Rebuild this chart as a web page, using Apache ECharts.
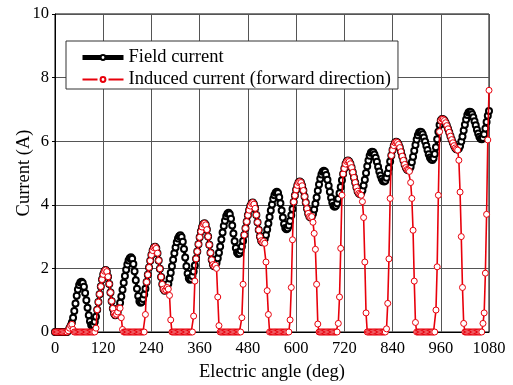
<!DOCTYPE html>
<html>
<head>
<meta charset="utf-8">
<script src="https://cdn.jsdelivr.net/npm/echarts@6/dist/echarts.min.js"></script>
<style>
  html, body { margin: 0; padding: 0; background: #fff; }
  #chart { width: 513px; height: 385px; }
</style>
</head>
<body>
<div id="chart"></div>
<script>
// sampled every 3 deg of electric angle, 0 .. 1080
var angleStep = 3;

var fieldCurrent = [
  0, 0, 0, 0, 0, 0, 0, 0, 0, 0, 0, 0.04, 0.12, 0.20, 0.30, 0.45, 0.66, 0.90, 1.14, 1.34,
  1.48, 1.56, 1.58, 1.54, 1.42, 1.23, 1.00, 0.76, 0.53, 0.34, 0.22, 0.18, 0.22, 0.32, 0.48, 0.70, 0.94, 1.19, 1.43, 1.65,
  1.81, 1.91, 1.95, 1.90, 1.74, 1.51, 1.24, 0.97, 0.74, 0.58, 0.53, 0.56, 0.63, 0.76, 0.92, 1.12, 1.33, 1.55, 1.76, 1.96,
  2.12, 2.25, 2.32, 2.35, 2.30, 2.14, 1.91, 1.63, 1.36, 1.13, 0.97, 0.92, 0.95, 1.04, 1.18, 1.36, 1.57, 1.80, 2.03, 2.24,
  2.42, 2.56, 2.65, 2.68, 2.63, 2.48, 2.25, 1.99, 1.73, 1.50, 1.35, 1.30, 1.33, 1.40, 1.52, 1.68, 1.86, 2.07, 2.27, 2.48,
  2.66, 2.82, 2.94, 3.01, 3.04, 2.99, 2.84, 2.61, 2.34, 2.07, 1.84, 1.69, 1.64, 1.67, 1.76, 1.90, 2.09, 2.30, 2.53, 2.76,
  2.98, 3.16, 3.30, 3.39, 3.42, 3.37, 3.22, 3.00, 2.74, 2.49, 2.27, 2.12, 2.07, 2.10, 2.18, 2.32, 2.49, 2.69, 2.91, 3.13,
  3.33, 3.50, 3.64, 3.72, 3.75, 3.70, 3.56, 3.35, 3.10, 2.85, 2.64, 2.50, 2.45, 2.48, 2.56, 2.69, 2.86, 3.05, 3.26, 3.47,
  3.67, 3.83, 3.96, 4.04, 4.07, 4.02, 3.89, 3.68, 3.45, 3.21, 3.00, 2.87, 2.82, 2.85, 2.93, 3.05, 3.22, 3.41, 3.62, 3.82,
  4.01, 4.18, 4.30, 4.38, 4.41, 4.37, 4.24, 4.05, 3.82, 3.60, 3.40, 3.27, 3.23, 3.26, 3.35, 3.49, 3.67, 3.87, 4.09, 4.29,
  4.47, 4.61, 4.70, 4.73, 4.70, 4.60, 4.45, 4.26, 4.07, 3.88, 3.73, 3.63, 3.60, 3.63, 3.72, 3.85, 4.03, 4.23, 4.44, 4.64,
  4.82, 4.95, 5.04, 5.07, 5.04, 4.94, 4.79, 4.60, 4.41, 4.22, 4.07, 3.97, 3.94, 3.97, 4.05, 4.19, 4.36, 4.56, 4.77, 4.97,
  5.14, 5.28, 5.36, 5.39, 5.36, 5.29, 5.17, 5.02, 4.86, 4.70, 4.55, 4.43, 4.36, 4.33, 4.36, 4.46, 4.61, 4.79, 5.00, 5.21,
  5.39, 5.54, 5.64, 5.67, 5.65, 5.58, 5.48, 5.35, 5.20, 5.05, 4.92, 4.82, 4.75, 4.73, 4.76, 4.85, 4.99, 5.16, 5.36, 5.55,
  5.72, 5.86, 5.95, 5.98, 5.96, 5.90, 5.80, 5.67, 5.53, 5.40, 5.27, 5.17, 5.11, 5.09, 5.12, 5.20, 5.34, 5.51, 5.70, 5.88,
  6.05, 6.19, 6.27, 6.30, 6.28, 6.22, 6.12, 5.99, 5.86, 5.72, 5.59, 5.49, 5.43, 5.41, 5.46, 5.60, 5.81, 6.06, 6.30, 6.51,
  6.65, 6.70, 6.69, 6.65, 6.58, 6.49, 6.39, 6.28, 6.16, 6.05, 5.95, 5.86, 5.79, 5.75, 5.74, 5.77, 5.85, 5.99, 6.15, 6.34,
  6.52, 6.68, 6.82, 6.90, 6.93, 6.91, 6.85, 6.75, 6.63, 6.50, 6.36, 6.24, 6.14, 6.08, 6.06, 6.10, 6.22, 6.40, 6.60, 6.80,
  6.95
];

var inducedCurrent = [
  0, 0, 0, 0, 0, 0, 0, 0, 0, 0, 0, 0.04, 0.12, 0.20, 0.24, 0.08, 0, 0, 0, 0,
  0, 0, 0, 0, 0, 0, 0, 0, 0, 0, 0, 0, 0, 0, 0.12, 0.70, 0.94, 1.19, 1.43, 1.65,
  1.81, 1.91, 1.95, 1.90, 1.74, 1.51, 1.24, 0.97, 0.74, 0.58, 0.53, 0.56, 0.63, 0.76, 0.75, 0.45, 0.08, 0, 0, 0,
  0, 0, 0, 0, 0, 0, 0, 0, 0, 0, 0, 0, 0, 0, 0, 0.55, 1.57, 1.80, 2.03, 2.24,
  2.42, 2.56, 2.65, 2.68, 2.63, 2.48, 2.25, 1.99, 1.73, 1.50, 1.35, 1.30, 1.33, 1.40, 1.35, 1.15, 0.38, 0, 0, 0,
  0, 0, 0, 0, 0, 0, 0, 0, 0, 0, 0, 0, 0, 0, 0, 0.50, 1.60, 2.30, 2.53, 2.76,
  2.98, 3.16, 3.30, 3.39, 3.42, 3.37, 3.22, 3.00, 2.74, 2.49, 2.27, 2.12, 2.07, 2.10, 2.00, 1.10, 0.20, 0, 0, 0,
  0, 0, 0, 0, 0, 0, 0, 0, 0, 0, 0, 0, 0, 0, 0, 0.45, 1.50, 3.05, 3.26, 3.47,
  3.67, 3.83, 3.96, 4.04, 4.07, 4.02, 3.89, 3.68, 3.45, 3.21, 3.00, 2.87, 2.82, 2.85, 2.79, 2.20, 1.30, 0.55, 0, 0,
  0, 0, 0, 0, 0, 0, 0, 0, 0, 0, 0, 0, 0, 0, 0, 0.38, 1.40, 2.90, 4.09, 4.29,
  4.47, 4.61, 4.70, 4.73, 4.70, 4.60, 4.45, 4.26, 4.07, 3.88, 3.73, 3.63, 3.60, 3.63, 3.45, 3.10, 2.60, 1.50, 0.25, 0,
  0, 0, 0, 0, 0, 0, 0, 0, 0, 0, 0, 0, 0, 0, 0, 0.27, 1.10, 2.63, 4.30, 4.97,
  5.14, 5.28, 5.36, 5.39, 5.36, 5.29, 5.17, 5.02, 4.86, 4.70, 4.55, 4.43, 4.36, 4.33, 4.30, 4.10, 3.60, 2.20, 0.60, 0,
  0, 0, 0, 0, 0, 0, 0, 0, 0, 0, 0, 0, 0, 0, 0, 0.10, 0.90, 2.30, 4.20, 5.55,
  5.72, 5.86, 5.95, 5.98, 5.96, 5.90, 5.80, 5.67, 5.53, 5.40, 5.27, 5.17, 5.11, 5.09, 5.05, 4.70, 4.20, 3.20, 1.60, 0.30,
  0, 0, 0, 0, 0, 0, 0, 0, 0, 0, 0, 0, 0, 0, 0, 0, 0.69, 2.05, 4.30, 6.30,
  6.65, 6.70, 6.69, 6.65, 6.58, 6.49, 6.39, 6.28, 6.16, 6.05, 5.95, 5.86, 5.79, 5.75, 5.72, 5.40, 4.40, 3.00, 1.40, 0.27,
  0, 0, 0, 0, 0, 0, 0, 0, 0, 0, 0, 0, 0, 0, 0, 0.27, 0.60, 1.85, 3.70, 6.04,
  7.60
];

var seriesNames = ['Field current', 'Induced current (forward direction)'];

function pairs(values) {
  return values.map(function (v, i) { return [i * angleStep, v]; });
}

var serif = '"Liberation Serif", "Times New Roman", serif';
var chart = echarts.init(document.getElementById('chart'), null, { renderer: 'canvas' });

chart.setOption({
  animation: false,
  backgroundColor: '#fff',
  textStyle: { fontFamily: serif, color: '#000' },
  grid: {
    left: 55, right: 24, top: 14, bottom: 53,
    outerBoundsMode: 'none',
    containLabel: false,
    show: true, borderColor: '#000', borderWidth: 1
  },
  legend: {
    orient: 'vertical',
    left: 66, top: 41,
    padding: [7, 7, 0, 14],
    itemGap: 3,
    itemWidth: 41,
    itemHeight: 6,
    backgroundColor: '#fff',
    borderColor: '#333',
    borderWidth: 1,
    textStyle: { fontFamily: serif, fontSize: 18.5, color: '#000' },
    data: [
      { name: seriesNames[0], lineStyle: { width: 5 } },
      { name: seriesNames[1], lineStyle: { width: 2, type: [15, 11] } }
    ]
  },
  xAxis: {
    type: 'value',
    min: 0, max: 1080, interval: 120,
    name: 'Electric angle (deg)',
    nameLocation: 'middle',
    nameGap: 31,
    nameMoveOverlap: false,
    nameTextStyle: { fontFamily: serif, fontSize: 18.5, color: '#000' },
    axisLine: { show: true, lineStyle: { color: '#000', width: 1 } },
    axisTick: { show: false },
    axisLabel: {
      fontFamily: serif, fontSize: 16.5, color: '#000', margin: 8,
      formatter: function (v) { return String(v); }
    },
    splitLine: { show: true, lineStyle: { color: '#555', width: 1 } }
  },
  yAxis: {
    type: 'value',
    min: 0, max: 10, interval: 2,
    name: 'Current (A)',
    nameLocation: 'middle',
    nameGap: 21,
    nameMoveOverlap: false,
    nameRotate: 90,
    nameTextStyle: { fontFamily: serif, fontSize: 18.5, color: '#000' },
    axisLine: { show: true, lineStyle: { color: '#000', width: 1 } },
    axisTick: { show: true, length: 3, lineStyle: { color: '#000' } },
    axisLabel: { fontFamily: serif, fontSize: 16.5, color: '#000', margin: 6 },
    splitLine: { show: true, lineStyle: { color: '#555', width: 1 } }
  },
  series: [
    {
      name: seriesNames[0],
      type: 'line',
      data: pairs(fieldCurrent),
      symbol: 'circle',
      symbolSize: 6,
      showAllSymbol: true,
      lineStyle: { color: '#000', width: 3 },
      itemStyle: { color: '#fff', borderColor: '#000', borderWidth: 2 },
      z: 2
    },
    {
      name: seriesNames[1],
      type: 'line',
      data: pairs(inducedCurrent),
      symbol: 'circle',
      symbolSize: 6,
      showAllSymbol: true,
      lineStyle: { color: '#e8000b', width: 1.6 },
      itemStyle: { color: '#fff', borderColor: '#e8000b', borderWidth: 1 },
      z: 3
    }
  ]
});
</script>
</body>
</html>
